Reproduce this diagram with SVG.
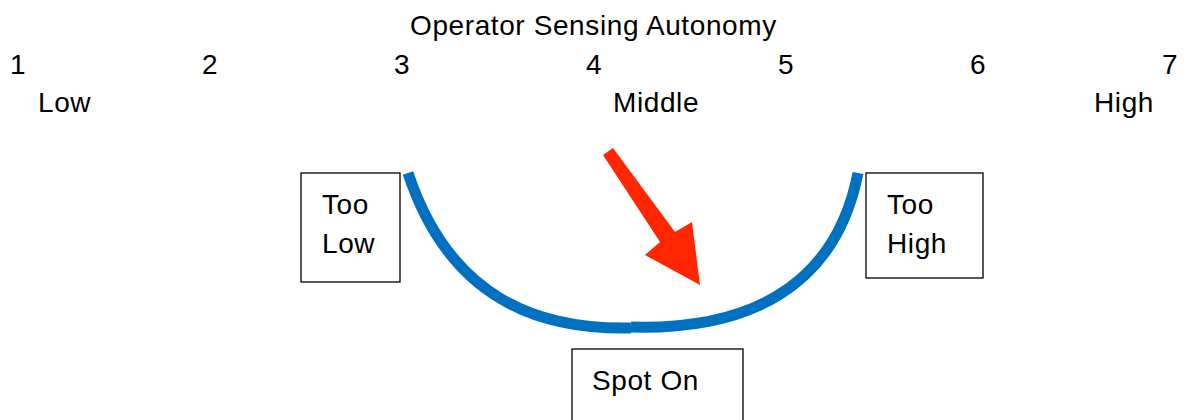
<svg xmlns="http://www.w3.org/2000/svg" width="1190" height="420" viewBox="0 0 1190 420">
  <style>
    text { font-family: "Liberation Sans", Arial, sans-serif; font-size: 28px; letter-spacing: 0.6px; fill: #000; }
    .mid { text-anchor: middle; }
    .box { fill: #fff; stroke: #000; stroke-width: 1.3; }
    .curve { fill: none; stroke: #0070C0; stroke-width: 11; }
  </style>
  <rect width="1190" height="420" fill="#fff"/>

  <!-- scale header -->
  <g id="scale">
    <text x="410" y="35">Operator Sensing Autonomy</text>
    <text class="mid" x="18" y="74">1</text>
    <text class="mid" x="210" y="74">2</text>
    <text class="mid" x="402" y="74">3</text>
    <text class="mid" x="594" y="74">4</text>
    <text class="mid" x="786" y="74">5</text>
    <text class="mid" x="978" y="74">6</text>
    <text class="mid" x="1170" y="74">7</text>
    <text x="38" y="112">Low</text>
    <text x="613" y="112">Middle</text>
    <text x="1094" y="112">High</text>
  </g>

  <!-- U-shaped curve and pointer -->
  <g id="connectors">
    <path class="curve" d="M408,173 C450,300 540,330 631,328"/>
    <path class="curve" d="M631,327 C745,330 835,290 858,173"/>
    <polygon fill="#FF2600" points="603,155 613,148 675,232 692,222 700,285 645,255 660,242"/>
  </g>

  <g id="too-low">
    <rect class="box" x="301" y="173" width="99" height="109"/>
    <text x="322" y="214">Too</text>
    <text x="322" y="253">Low</text>
  </g>

  <g id="too-high">
    <rect class="box" x="866" y="173" width="117" height="105"/>
    <text x="887" y="214">Too</text>
    <text x="887" y="253">High</text>
  </g>

  <g id="spot-on">
    <rect class="box" x="572" y="349" width="171" height="80"/>
    <text x="592" y="390">Spot On</text>
  </g>
</svg>
